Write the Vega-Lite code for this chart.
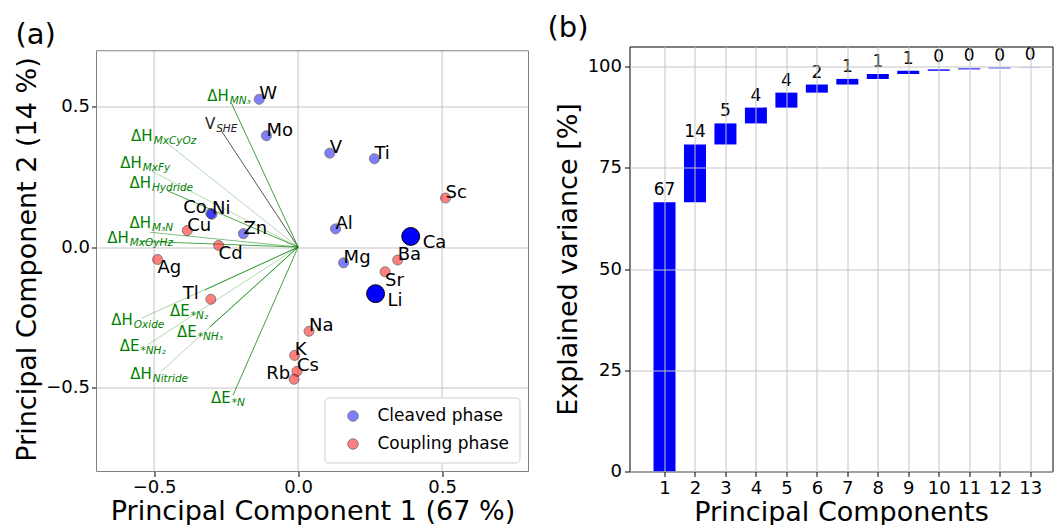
{
  "$schema": "https://vega.github.io/schema/vega-lite/v6.json",
  "padding": {"left": 13.5, "top": 13.5, "right": 0, "bottom": 0},
  "spacing": 17,
  "resolve": {"scale": {"color": "independent"}, "legend": {"color": "independent"}},
  "config": {
    "font": "DejaVu Sans",
    "view": {"stroke": "black"},
    "axis": {
      "labelFont": "DejaVu Sans", "titleFont": "DejaVu Sans",
      "labelFontSize": 18, "titleFontSize": 27, "titleFontWeight": "normal",
      "labelColor": "black", "titleColor": "black", "tickColor": "black",
      "tickSize": 5, "gridColor": "#c4c4c4", "gridWidth": 1, "domain": false, "labelOverlap": false
    },
    "title": {"font": "DejaVu Sans", "fontSize": 29, "fontWeight": "normal", "color": "black"},
    "legend": {"labelFont": "DejaVu Sans"}
  },
  "datasets": {
    "scores": [
      {"el": "W", "x": -0.135, "y": 0.527, "group": "Cleaved phase"},
      {"el": "Mo", "x": -0.110, "y": 0.397, "group": "Cleaved phase"},
      {"el": "V", "x": 0.110, "y": 0.335, "group": "Cleaved phase"},
      {"el": "Ti", "x": 0.265, "y": 0.315, "group": "Cleaved phase"},
      {"el": "Sc", "x": 0.512, "y": 0.175, "group": "Coupling phase"},
      {"el": "Al", "x": 0.130, "y": 0.065, "group": "Cleaved phase"},
      {"el": "Zn", "x": -0.190, "y": 0.048, "group": "Cleaved phase"},
      {"el": "Co", "x": -0.303, "y": 0.120, "group": "Cleaved phase"},
      {"el": "Ni", "x": -0.299, "y": 0.117, "group": "Cleaved phase"},
      {"el": "Cu", "x": -0.385, "y": 0.059, "group": "Coupling phase"},
      {"el": "Cd", "x": -0.276, "y": 0.006, "group": "Coupling phase"},
      {"el": "Ag", "x": -0.488, "y": -0.044, "group": "Coupling phase"},
      {"el": "Tl", "x": -0.303, "y": -0.186, "group": "Coupling phase"},
      {"el": "Mg", "x": 0.158, "y": -0.056, "group": "Cleaved phase"},
      {"el": "Ba", "x": 0.346, "y": -0.046, "group": "Coupling phase"},
      {"el": "Sr", "x": 0.302, "y": -0.088, "group": "Coupling phase"},
      {"el": "Na", "x": 0.038, "y": -0.300, "group": "Coupling phase"},
      {"el": "K", "x": -0.012, "y": -0.386, "group": "Coupling phase"},
      {"el": "Cs", "x": -0.004, "y": -0.443, "group": "Coupling phase"},
      {"el": "Rb", "x": -0.014, "y": -0.471, "group": "Coupling phase"},
      {"el": "Ca", "x": 0.391, "y": 0.038, "group": "Selected"},
      {"el": "Li", "x": 0.269, "y": -0.166, "group": "Selected"}
    ],
    "loadings": [
      {"main": "ΔH", "sub": "MN₃", "kind": "thermo", "x": -0.231, "y": 0.512, "lx": -0.241, "ly": 0.520, "weight": 0.75},
      {"main": "V", "sub": "SHE", "kind": "SHE", "x": -0.266, "y": 0.414, "lx": -0.288, "ly": 0.420, "weight": 1},
      {"main": "ΔH", "sub": "MxCyOz", "kind": "thermo", "x": -0.457, "y": 0.372, "lx": -0.505, "ly": 0.380, "weight": 0.3},
      {"main": "ΔH", "sub": "MxFy", "kind": "thermo", "x": -0.508, "y": 0.271, "lx": -0.543, "ly": 0.282, "weight": 0.3},
      {"main": "ΔH", "sub": "Hydride", "kind": "thermo", "x": -0.452, "y": 0.200, "lx": -0.511, "ly": 0.210, "weight": 0.7},
      {"main": "ΔH", "sub": "M₃N", "kind": "thermo", "x": -0.515, "y": 0.053, "lx": -0.511, "ly": 0.069, "weight": 0.5},
      {"main": "ΔH", "sub": "MxOyHz", "kind": "thermo", "x": -0.550, "y": 0.021, "lx": -0.588, "ly": 0.013, "weight": 0.7},
      {"main": "ΔH", "sub": "Oxide", "kind": "thermo", "x": -0.544, "y": -0.254, "lx": -0.574, "ly": -0.278, "weight": 0.35},
      {"main": "ΔE", "sub": " *N₂", "kind": "thermo", "x": -0.324, "y": -0.153, "lx": -0.376, "ly": -0.246, "weight": 0.7},
      {"main": "ΔE", "sub": " *NH₃", "kind": "thermo", "x": -0.307, "y": -0.285, "lx": -0.352, "ly": -0.320, "weight": 0.8},
      {"main": "ΔE", "sub": " *NH₂", "kind": "thermo", "x": -0.521, "y": -0.347, "lx": -0.551, "ly": -0.371, "weight": 0.3},
      {"main": "ΔH", "sub": "Nitride", "kind": "thermo", "x": -0.474, "y": -0.442, "lx": -0.508, "ly": -0.472, "weight": 0.3},
      {"main": "ΔE", "sub": " *N", "kind": "thermo", "x": -0.226, "y": -0.528, "lx": -0.234, "ly": -0.557, "weight": 0.75}
    ],
    "variance": [
      {"pc": 1, "start": 0, "end": 66.5, "label": "67"},
      {"pc": 2, "start": 66.5, "end": 80.8, "label": "14"},
      {"pc": 3, "start": 80.8, "end": 86.0, "label": "5"},
      {"pc": 4, "start": 86.0, "end": 89.9, "label": "4"},
      {"pc": 5, "start": 89.9, "end": 93.6, "label": "4"},
      {"pc": 6, "start": 93.6, "end": 95.6, "label": "2"},
      {"pc": 7, "start": 95.6, "end": 97.0, "label": "1"},
      {"pc": 8, "start": 97.0, "end": 98.2, "label": "1"},
      {"pc": 9, "start": 98.2, "end": 99.0, "label": "1"},
      {"pc": 10, "start": 99.0, "end": 99.35, "label": "0"},
      {"pc": 11, "start": 99.35, "end": 99.6, "label": "0"},
      {"pc": 12, "start": 99.6, "end": 99.8, "label": "0"},
      {"pc": 13, "start": 99.8, "end": 99.85, "label": "0"}
    ]
  },
  "hconcat": [
    {
      "width": 432, "height": 425,
      "title": {"text": "(a)", "anchor": "start", "frame": "group", "dx": -81, "dy": 6, "offset": 3},
      "view": {"stroke": null},
      "layer": [
        {
          "data": {"values": [{"g": -0.5, "lo": -0.8, "hi": 0.7}, {"g": 0, "lo": -0.8, "hi": 0.7}, {"g": 0.5, "lo": -0.8, "hi": 0.7}]},
          "mark": {"type": "rule", "color": "#c4c4c4", "strokeWidth": 1},
          "encoding": {
            "x": {"field": "g", "type": "quantitative", "title": "Principal Component 1 (67 %)"},
            "y": {"field": "lo", "type": "quantitative", "title": "Principal Component 2 (14 %)"},
            "y2": {"field": "hi"}
          }
        },
        {
          "data": {"values": [{"x0": -0.7, "x1": 0.8, "y0": -0.8, "y1": 0.7}]},
          "mark": {"type": "rect", "fill": null, "fillOpacity": 0, "stroke": "#808080", "strokeWidth": 1},
          "encoding": {
            "x": {"field": "x0", "type": "quantitative", "title": "Principal Component 1 (67 %)"},
            "x2": {"field": "x1"},
            "y": {"field": "y0", "type": "quantitative", "title": "Principal Component 2 (14 %)"},
            "y2": {"field": "y1"}
          }
        },
        {
          "data": {"name": "loadings"},
          "mark": {"type": "rule", "strokeWidth": 1},
          "encoding": {
            "x": {"field": "x", "type": "quantitative", "title": "Principal Component 1 (67 %)", "scale": {"domain": [-0.70, 0.80], "nice": false, "zero": false},
                  "axis": {"values": [-0.5, 0, 0.5], "format": ".1f", "grid": false, "labelPadding": 2, "titlePadding": 2, "labelOverlap": false}},
            "y": {"field": "y", "type": "quantitative", "title": "Principal Component 2 (14 %)", "scale": {"domain": [-0.80, 0.7152], "nice": false, "zero": false},
                  "axis": {"values": [-0.5, 0, 0.5], "format": ".1f", "labelPadding": 2, "titlePadding": 4, "labelOverlap": false}},
            "x2": {"datum": 0},
            "y2": {"datum": 0},
            "color": {"condition": {"test": "datum.kind === 'SHE'", "value": "#555555"}, "value": "#008000"},
            "opacity": {"field": "weight", "type": "quantitative", "scale": {"domain": [0, 1], "range": [0, 1]}, "legend": null}
          }
        },
        {
          "data": {"name": "loadings"},
          "mark": {"type": "text", "align": "right", "baseline": "alphabetic", "fontSize": 15},
          "encoding": {
            "x": {"field": "lx", "type": "quantitative", "title": "Principal Component 1 (67 %)"},
            "y": {"field": "ly", "type": "quantitative", "title": "Principal Component 2 (14 %)"},
            "text": {"field": "main"},
            "color": {"condition": {"test": "datum.kind === 'SHE'", "value": "#222222"}, "value": "#008000"}
          }
        },
        {
          "data": {"name": "loadings"},
          "mark": {"type": "text", "align": "left", "baseline": "alphabetic", "fontSize": 10.5, "fontStyle": "italic", "dx": 1, "dy": 3},
          "encoding": {
            "x": {"field": "lx", "type": "quantitative", "title": "Principal Component 1 (67 %)"},
            "y": {"field": "ly", "type": "quantitative", "title": "Principal Component 2 (14 %)"},
            "text": {"field": "sub"},
            "color": {"condition": {"test": "datum.kind === 'SHE'", "value": "#222222"}, "value": "#008000"}
          }
        },
        {
          "data": {"name": "scores"},
          "transform": [{"filter": "datum.group !== 'Selected'"}],
          "mark": {"type": "point", "filled": true, "size": 100, "opacity": 0.5, "stroke": "black", "strokeWidth": 1},
          "encoding": {
            "x": {"field": "x", "type": "quantitative", "title": "Principal Component 1 (67 %)"},
            "y": {"field": "y", "type": "quantitative", "title": "Principal Component 2 (14 %)"},
            "color": {"field": "group", "type": "nominal",
                      "scale": {"domain": ["Cleaved phase", "Coupling phase"], "range": ["#0000ff", "#ff0000"]},
                      "legend": {"title": null, "orient": "bottom-right", "offset": 9, "labelFontSize": 17, "symbolType": "circle",
                                 "symbolSize": 110, "symbolOpacity": 0.5, "symbolStrokeColor": "black", "symbolStrokeWidth": 1,
                                 "padding": 10, "symbolOffset": 10, "labelOffset": 16, "rowPadding": 10,
                                 "strokeColor": "#d0d0d0", "fillColor": "white", "cornerRadius": 4}}
          }
        },
        {
          "data": {"name": "scores"},
          "transform": [{"filter": "datum.group === 'Selected'"}],
          "mark": {"type": "point", "filled": true, "size": 320, "color": "#0000ff", "stroke": "black", "strokeWidth": 1, "opacity": 1},
          "encoding": {
            "x": {"field": "x", "type": "quantitative", "title": "Principal Component 1 (67 %)"},
            "y": {"field": "y", "type": "quantitative", "title": "Principal Component 2 (14 %)"}
          }
        },
        {
          "data": {"name": "scores"},
          "transform": [{"filter": {"field": "el", "oneOf": ["W", "Mo", "V", "Ti", "Sc", "Al", "Ni", "Cu", "Zn", "Mg", "Ba", "Na", "K", "Cs"]}}],
          "mark": {"type": "text", "align": "left", "baseline": "alphabetic", "fontSize": 18, "color": "black"},
          "encoding": {
            "x": {"field": "x", "type": "quantitative", "title": "Principal Component 1 (67 %)"},
            "y": {"field": "y", "type": "quantitative", "title": "Principal Component 2 (14 %)"},
            "text": {"field": "el"}
          }
        },
        {
          "data": {"name": "scores"},
          "transform": [{"filter": {"field": "el", "oneOf": ["Cd", "Ag", "Sr"]}}],
          "mark": {"type": "text", "align": "left", "baseline": "top", "fontSize": 18, "color": "black"},
          "encoding": {
            "x": {"field": "x", "type": "quantitative", "title": "Principal Component 1 (67 %)"},
            "y": {"field": "y", "type": "quantitative", "title": "Principal Component 2 (14 %)"},
            "text": {"field": "el"}
          }
        },
        {
          "data": {"name": "scores"},
          "transform": [{"filter": {"field": "el", "oneOf": ["Co", "Rb"]}}],
          "mark": {"type": "text", "align": "right", "baseline": "alphabetic", "fontSize": 18, "color": "black", "dx": -4},
          "encoding": {
            "x": {"field": "x", "type": "quantitative", "title": "Principal Component 1 (67 %)"},
            "y": {"field": "y", "type": "quantitative", "title": "Principal Component 2 (14 %)"},
            "text": {"field": "el"}
          }
        },
        {
          "data": {"name": "scores"},
          "transform": [{"filter": {"field": "el", "oneOf": ["Tl"]}}],
          "mark": {"type": "text", "align": "right", "baseline": "alphabetic", "fontSize": 18, "color": "black", "dx": -12},
          "encoding": {
            "x": {"field": "x", "type": "quantitative", "title": "Principal Component 1 (67 %)"},
            "y": {"field": "y", "type": "quantitative", "title": "Principal Component 2 (14 %)"},
            "text": {"field": "el"}
          }
        },
        {
          "data": {"name": "scores"},
          "transform": [{"filter": {"field": "el", "oneOf": ["Ca", "Li"]}}],
          "mark": {"type": "text", "align": "left", "baseline": "top", "fontSize": 18, "color": "black", "dx": 12, "dy": -2},
          "encoding": {
            "x": {"field": "x", "type": "quantitative", "title": "Principal Component 1 (67 %)"},
            "y": {"field": "y", "type": "quantitative", "title": "Principal Component 2 (14 %)"},
            "text": {"field": "el"}
          }
        }
      ]
    },
    {
      "width": 423, "height": 425,
      "title": {"text": "(b)", "anchor": "start", "frame": "group", "dx": -82, "offset": 3},
      "view": {"stroke": "black"},
      "data": {"name": "variance"},
      "layer": [
        {
          "mark": {"type": "bar", "color": "#0000ff", "width": 22},
          "encoding": {
            "x": {"field": "pc", "type": "quantitative", "title": "Principal Components", "scale": {"domain": [0.015, 13.57], "nice": false, "zero": false},
                  "axis": {"values": [1, 2, 3, 4, 5, 6, 7, 8, 9, 10, 11, 12, 13], "tickCount": 13, "format": "d", "labelOverlap": false,
                           "zindex": 1, "labelPadding": 3, "titlePadding": 2}},
            "y": {"field": "start", "type": "quantitative", "title": "Explained variance [%]", "scale": {"domain": [0, 105], "nice": false},
                  "axis": {"values": [0, 25, 50, 75, 100], "zindex": 1, "labelPadding": 3, "titlePadding": 5, "labelOverlap": false}},
            "y2": {"field": "end"}
          }
        },
        {
          "mark": {"type": "text", "fontSize": 17, "baseline": "alphabetic", "dy": -7, "color": "black"},
          "encoding": {
            "x": {"field": "pc", "type": "quantitative", "title": "Principal Components"},
            "y": {"field": "end", "type": "quantitative", "title": "Explained variance [%]"},
            "text": {"field": "label"}
          }
        }
      ]
    }
  ]
}
